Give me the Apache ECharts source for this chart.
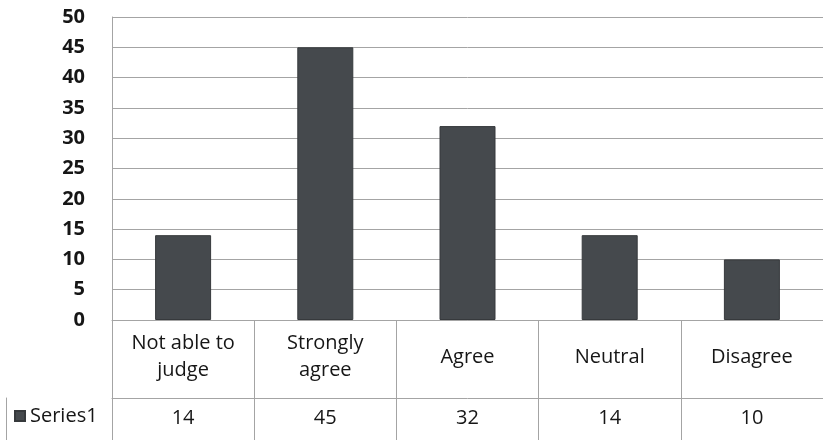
<!DOCTYPE html>
<html>
<head>
<meta charset="utf-8">
<script src="https://cdn.jsdelivr.net/npm/echarts@6/dist/echarts.min.js"></script>
<style>html,body{margin:0;padding:0;background:#fff;}#c{width:823px;height:440px;}</style>
</head>
<body>
<div id="c"></div>
<script>
const categories = ['Not able to\njudge', 'Strongly\nagree', 'Agree', 'Neutral', 'Disagree'];
const values = [14, 45, 32, 14, 10];
const seriesName = 'Series1';
const yTicks = { min: 0, max: 50, interval: 5 };

const chart = echarts.init(document.getElementById('c'), null, { renderer: 'canvas' });
const FONT = 'Open Sans';
const gridColor = '#a4a4a4';
const textColor = '#161616';
chart.setOption({
  backgroundColor: '#fff',
  animation: false,
  textStyle: { fontFamily: FONT },
  grid: [
    { left: 112, top: 17, width: 718, height: 303, containLabel: false },
    { left: 6, top: 398, width: 106, height: 80, containLabel: false }
  ],
  legend: {
    data: [seriesName],
    left: 8, top: 398,
    icon: 'rect', itemWidth: 10, itemHeight: 10, itemGap: 4,
    padding: [8, 4, 8, 6],
    textStyle: { fontFamily: FONT, fontSize: 20, color: textColor }
  },
  xAxis: [{
    type: 'category', data: categories, position: 'bottom', gridIndex: 0,
    axisLine: { show: true, lineStyle: { color: gridColor, width: 1 } },
    axisTick: { show: true, length: 120, lineStyle: { color: gridColor } },
    axisLabel: { interval: 0, margin: 37, verticalAlign: 'middle', lineHeight: 27, fontSize: 20, color: textColor, fontFamily: FONT }
  }, {
    type: 'category', data: categories, position: 'bottom', offset: 78, gridIndex: 0,
    axisLine: { show: true, lineStyle: { color: gridColor, width: 1 } },
    axisTick: { show: false },
    axisLabel: { interval: 0, margin: 20, verticalAlign: 'middle', fontSize: 20, color: textColor, fontFamily: FONT,
      formatter: (v, i) => String(values[i]) }
  }, {
    type: 'value', gridIndex: 1, position: 'top', min: 0, max: 1,
    axisLine: { show: true, lineStyle: { color: gridColor, width: 1 } },
    axisTick: { show: false }, axisLabel: { show: false }, splitLine: { show: false }
  }],
  yAxis: [{
    type: 'value', min: yTicks.min, max: yTicks.max, interval: yTicks.interval, gridIndex: 0,
    axisLine: { show: true, lineStyle: { color: gridColor } },
    axisTick: { show: false },
    splitLine: { show: true, lineStyle: { color: gridColor, width: 1 } },
    axisLabel: { margin: 27, fontSize: 20, fontWeight: 'bold', color: textColor, fontFamily: FONT }
  }, {
    type: 'value', gridIndex: 1, position: 'left', min: 0, max: 1,
    axisLine: { show: true, lineStyle: { color: gridColor, width: 1 } },
    axisTick: { show: false }, axisLabel: { show: false }, splitLine: { show: false }
  }],
  series: [{
    name: seriesName, type: 'bar', data: values, xAxisIndex: 0, yAxisIndex: 0,
    barWidth: 56,
    itemStyle: { color: '#45494d', borderColor: '#36393c', borderWidth: 1 }
  }]
});
</script>
</body>
</html>
